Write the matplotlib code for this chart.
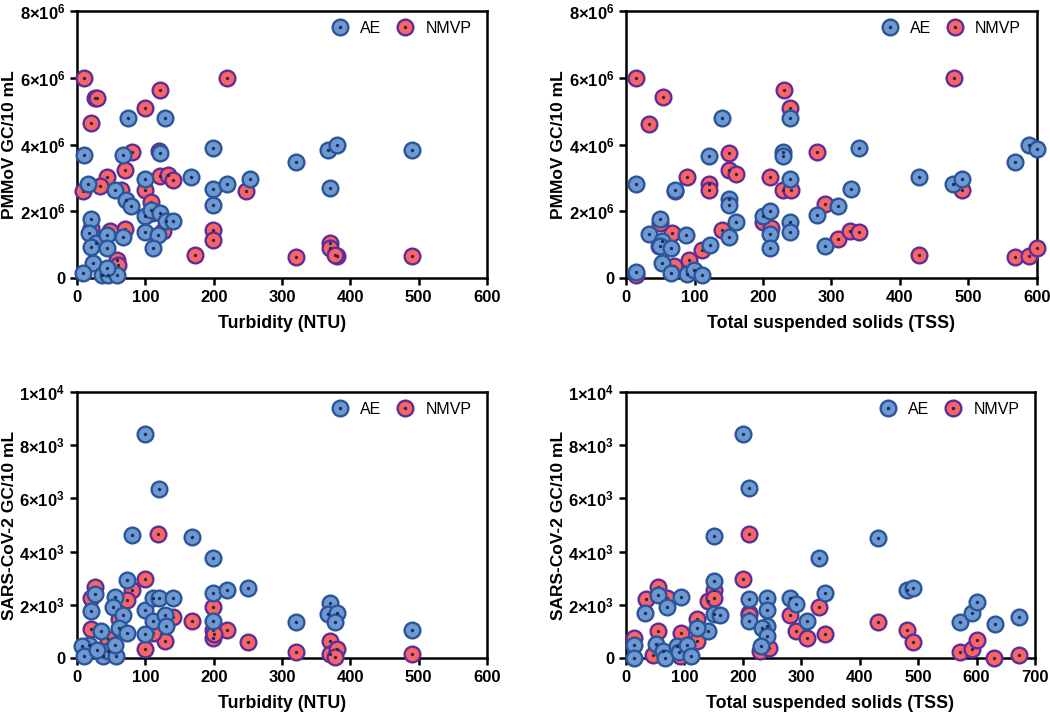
import matplotlib
matplotlib.use("Agg")
import matplotlib.pyplot as plt
from matplotlib.lines import Line2D
from matplotlib.legend_handler import HandlerTuple
from matplotlib.ticker import FuncFormatter, MultipleLocator

plt.rcParams["font.family"] = ["Liberation Sans", "DejaVu Sans"]
plt.rcParams["font.weight"] = "bold"
plt.rcParams["mathtext.fontset"] = "custom"
plt.rcParams["mathtext.rm"] = "Liberation Sans:bold"
plt.rcParams["mathtext.bf"] = "Liberation Sans:bold"
plt.rcParams["mathtext.default"] = "bf"

# ---- PMMoV vs turbidity (y in 1e6 GC/10 mL)
pm_turb_ae_x = [11, 67, 121, 199, 75, 129, 16, 55, 72, 79, 99, 167, 199, 199, 220, 253,
                21, 18, 28, 21, 44, 44, 67, 99, 109, 121, 131, 140, 99, 119, 111, 23,
                9, 36, 45, 58, 44, 320, 368, 380, 490, 370]
pm_turb_ae_y = [3.68, 3.70, 3.75, 3.90, 4.80, 4.78, 2.83, 2.65, 2.35, 2.15, 2.98, 3.03, 2.68,
                2.18, 2.83, 2.98, 1.78, 1.35, 1.05, 0.93, 1.30, 0.90, 1.23, 1.85, 2.05, 1.95,
                1.70, 1.70, 1.38, 1.30, 0.90, 0.45, 0.15, 0.10, 0.10, 0.10, 0.30, 3.48, 3.85,
                3.98, 3.85, 2.70]
pm_turb_nm_x = [11, 26, 29, 20, 99, 121, 220, 80, 120, 71, 44, 33, 9, 65, 121, 133, 140,
                99, 248, 109, 110, 70, 126, 199, 199, 172, 58, 60, 20, 48, 370, 370, 380,
                378, 320, 490]
pm_turb_nm_y = [5.98, 5.40, 5.40, 4.63, 5.10, 5.63, 5.98, 3.77, 3.80, 3.23, 3.03, 2.75, 2.60,
                2.65, 3.05, 3.10, 2.95, 2.65, 2.60, 2.27, 1.95, 1.47, 1.42, 1.45, 1.15, 0.70,
                0.55, 0.40, 1.50, 1.40, 1.05, 0.90, 0.65, 0.68, 0.62, 0.67]

# ---- PMMoV vs TSS (y in 1e6 GC/10 mL)
pm_tss_ae_x = [14, 14, 33, 49, 53, 50, 66, 53, 72, 65, 88, 89, 99, 111, 121, 140, 122, 150,
               150, 160, 150, 200, 210, 210, 210, 229, 229, 240, 240, 240, 240, 279, 290, 309,
               329, 340, 428, 478, 490, 568, 589, 600]
pm_tss_ae_y = [2.82, 0.17, 1.33, 1.78, 1.10, 0.95, 0.90, 0.45, 2.65, 0.15, 1.30, 0.13, 0.25,
               0.10, 3.67, 4.78, 1.00, 2.38, 2.18, 1.68, 1.23, 1.87, 2.02, 1.32, 0.90, 3.78,
               3.67, 4.78, 2.98, 1.68, 1.38, 1.90, 0.95, 2.17, 2.68, 3.90, 3.02, 2.82, 2.98,
               3.48, 3.98, 3.88]
pm_tss_nm_x = [14, 54, 33, 230, 239, 479, 89, 150, 150, 160, 121, 121, 210, 229, 241, 279,
               290, 309, 327, 340, 140, 200, 211, 428, 490, 568, 589, 600, 67, 50, 48, 111,
               92, 70, 14, 72]
pm_tss_nm_y = [5.98, 5.42, 4.62, 5.63, 5.10, 5.98, 3.03, 3.75, 3.23, 3.12, 2.83, 2.63, 3.03,
               2.63, 2.65, 3.78, 2.23, 1.17, 1.40, 1.37, 1.45, 1.67, 1.50, 0.70, 2.65, 0.63,
               0.67, 0.90, 1.35, 1.65, 0.95, 0.85, 0.55, 0.35, 0.10, 2.60]

# ---- SARS-CoV-2 vs turbidity (y in 1e3 GC/10 mL)
sc_turb_ae_x = [100, 120, 80, 169, 199, 73, 27, 20, 55, 52, 67, 62, 73, 35, 99, 111, 120,
                140, 111, 129, 130, 100, 199, 220, 250, 199, 320, 17, 8, 11, 38, 46, 57, 55,
                30, 370, 368, 380, 378, 490]
sc_turb_ae_y = [8.41, 6.36, 4.63, 4.54, 3.75, 2.94, 2.40, 1.75, 2.31, 1.91, 1.63, 1.13, 0.94,
                1.00, 1.81, 2.25, 2.25, 2.25, 1.38, 1.63, 1.19, 0.91, 2.44, 2.56, 2.65, 1.41,
                1.35, 0.50, 0.44, 0.06, 0.06, 0.25, 0.06, 0.50, 0.30, 2.08, 1.65, 1.70, 1.35,
                1.05]
sc_turb_nm_x = [119, 100, 27, 21, 81, 73, 140, 169, 199, 199, 199, 220, 250, 100, 129, 320,
                21, 62, 111, 15, 45, 370, 370, 380, 378, 490, 200]
sc_turb_nm_y = [4.65, 2.96, 2.66, 2.25, 2.56, 2.19, 1.53, 1.38, 1.90, 1.06, 0.75, 1.06, 0.59,
                0.34, 0.63, 0.21, 1.09, 1.46, 0.94, 0.40, 0.70, 0.65, 0.15, 0.35, 0.05, 0.15,
                0.90]

# ---- SARS-CoV-2 vs TSS (y in 1e3 GC/10 mL)
sc_tss_ae_x = [200, 211, 150, 431, 331, 150, 481, 492, 341, 280, 291, 211, 241, 241, 211,
               241, 233, 241, 231, 310, 54, 33, 71, 94, 141, 121, 150, 161, 14, 13, 52, 64,
               66, 88, 90, 104, 112, 572, 592, 601, 632, 673]
sc_tss_ae_y = [8.41, 6.38, 4.60, 4.53, 3.75, 2.91, 2.56, 2.63, 2.44, 2.25, 2.04, 2.23, 2.25,
               1.79, 1.38, 1.21, 1.13, 0.84, 0.44, 1.41, 2.38, 1.71, 1.91, 2.31, 1.00, 1.13,
               1.65, 1.63, 0.50, 0.00, 0.54, 0.25, 0.00, 0.44, 0.21, 0.50, 0.06, 1.35, 1.69,
               2.09, 1.28, 1.53]
sc_tss_nm_x = [211, 200, 54, 35, 71, 141, 151, 151, 211, 211, 280, 331, 121, 121, 54, 94,
               14, 47, 291, 310, 341, 431, 481, 492, 572, 592, 601, 630, 673, 230, 244, 93]
sc_tss_nm_y = [4.65, 2.96, 2.66, 2.23, 2.25, 2.15, 2.56, 2.25, 1.71, 1.60, 1.63, 1.90, 1.46,
               0.63, 1.00, 0.94, 0.75, 0.13, 1.00, 0.75, 0.91, 1.35, 1.06, 0.59, 0.21, 0.34,
               0.69, 0.00, 0.13, 0.25, 0.37, 0.06]

AE_FACE, AE_EDGE = "#6e98d2", "#2a5699"
NM_FACE, NM_EDGE = "#fc6363", "#5c2e9c"
DOT = "#1c2f5a"
MS = 128
LW = 1.7


def exp_fmt(v, pos):
    if v == 0:
        return "0"
    e = 0
    m = v
    while m >= 10:
        m /= 10
        e += 1
    return r"$%d{\times}10^{%d}$" % (round(m), e)


def panel(ax, ae_x, ae_y, nm_x, nm_y, scale, xmax, ymax, ystep, xlabel, ylabel):
    nm_y = [v * scale for v in nm_y]
    ae_y = [v * scale for v in ae_y]
    ax.scatter(nm_x, nm_y, s=MS, c=NM_FACE, edgecolors=NM_EDGE, linewidths=LW,
               zorder=3, clip_on=False)
    ax.scatter(nm_x, nm_y, s=2, c=DOT, zorder=3, clip_on=False)
    ax.scatter(ae_x, ae_y, s=MS, c=AE_FACE, edgecolors=AE_EDGE, linewidths=LW,
               zorder=4, clip_on=False)
    ax.scatter(ae_x, ae_y, s=2, c=DOT, zorder=4, clip_on=False)
    ax.set_xlim(0, xmax)
    ax.set_ylim(0, ymax)
    ax.xaxis.set_major_locator(MultipleLocator(100))
    ax.yaxis.set_major_locator(MultipleLocator(ystep))
    ax.yaxis.set_major_formatter(FuncFormatter(exp_fmt))
    for sp in ax.spines.values():
        sp.set_linewidth(1.8)
    ax.tick_params(direction="out", length=5, width=1.8, labelsize=12)
    ax.set_xlabel(xlabel, fontsize=12.8, fontweight="bold", labelpad=7)
    ax.set_ylabel(ylabel, fontsize=12.5, fontweight="bold", labelpad=1.5)

    h_ae = (Line2D([], [], ls="", marker="o", ms=11.3, mfc=AE_FACE, mec=AE_EDGE, mew=LW),
            Line2D([], [], ls="", marker="o", ms=1.5, mfc=DOT, mec=DOT))
    h_nm = (Line2D([], [], ls="", marker="o", ms=11.3, mfc=NM_FACE, mec=NM_EDGE, mew=LW),
            Line2D([], [], ls="", marker="o", ms=1.5, mfc=DOT, mec=DOT))
    ax.legend([h_ae, h_nm], ["AE", "NMVP"], handler_map={tuple: HandlerTuple(ndivide=1)},
              ncol=2, loc="upper right", bbox_to_anchor=(0.985, 1.0), frameon=False,
              handlelength=1.0, handletextpad=0.75, columnspacing=1.0, borderaxespad=0.2,
              prop={"size": 11.5, "weight": "normal"})


fig = plt.figure(figsize=(10.5, 7.15), dpi=100)
ax1 = fig.add_axes([0.0733, 0.6112, 0.3905, 0.3734])
ax2 = fig.add_axes([0.5962, 0.6112, 0.3914, 0.3734])
ax3 = fig.add_axes([0.0733, 0.0797, 0.3905, 0.3720])
ax4 = fig.add_axes([0.5962, 0.0797, 0.3895, 0.3720])

panel(ax1, pm_turb_ae_x, pm_turb_ae_y, pm_turb_nm_x, pm_turb_nm_y, 1e6, 600, 8e6, 2e6,
      "Turbidity (NTU)", "PMMoV GC/10 mL")
panel(ax2, pm_tss_ae_x, pm_tss_ae_y, pm_tss_nm_x, pm_tss_nm_y, 1e6, 600, 8e6, 2e6,
      "Total suspended solids (TSS)", "PMMoV GC/10 mL")
panel(ax3, sc_turb_ae_x, sc_turb_ae_y, sc_turb_nm_x, sc_turb_nm_y, 1e3, 600, 1e4, 2e3,
      "Turbidity (NTU)", "SARS-CoV-2 GC/10 mL")
panel(ax4, sc_tss_ae_x, sc_tss_ae_y, sc_tss_nm_x, sc_tss_nm_y, 1e3, 700, 1e4, 2e3,
      "Total suspended solids (TSS)", "SARS-CoV-2 GC/10 mL")

fig.savefig("out.png", dpi=100)
